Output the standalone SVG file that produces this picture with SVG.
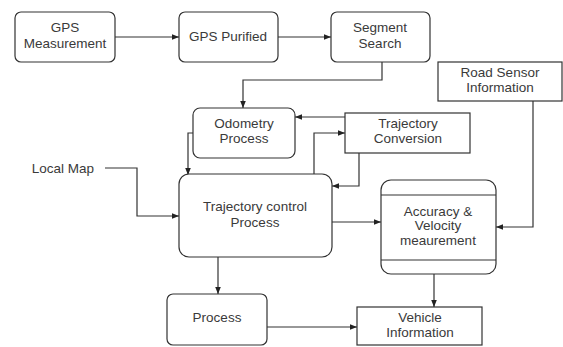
<svg xmlns="http://www.w3.org/2000/svg" width="563" height="347" viewBox="0 0 563 347">
<defs>
<marker id="arr" viewBox="0 0 10 10" refX="10" refY="5" markerWidth="7" markerHeight="7" markerUnits="userSpaceOnUse" orient="auto">
<path d="M0,1 L10,5 L0,9 z" fill="#222"/>
</marker>
<style>
.box{fill:#fff;stroke:#333;stroke-width:1.2}
.t{font-family:"Liberation Sans",Arial,sans-serif;font-size:13.5px;fill:#3a3a3a;text-anchor:middle}
.c{fill:none;stroke:#333;stroke-width:1.2;marker-end:url(#arr)}
.l{fill:none;stroke:#333;stroke-width:1.2}
</style>
</defs>
<rect width="563" height="347" fill="#fff"/>
<g id="connectors">
<path class="c" d="M115,37 H179"/>
<path class="c" d="M278,37 H331"/>
<path class="c" d="M382,62 V80 H243 V108"/>
<path class="c" d="M345,117 H295"/>
<path class="c" d="M314,174 V133 H345"/>
<path class="c" d="M359,153 V186 H332"/>
<path class="c" d="M193,133 H188 V175"/>
<path class="c" d="M105,168 H137 V216 H179"/>
<path class="c" d="M332,222 H381"/>
<path class="c" d="M218,257 V294"/>
<path class="c" d="M267,327 H357"/>
<path class="c" d="M434,274 V307"/>
<path class="c" d="M533,101 V227 H496"/>
</g>
<g id="gps-measurement"><rect class="box" x="15" y="12" width="100" height="50" rx="6"/><text class="t" x="65" y="32">GPS</text><text class="t" x="65" y="48">Measurement</text></g>
<g id="gps-purified"><rect class="box" x="179" y="12" width="99" height="50" rx="6"/><text class="t" x="228" y="41">GPS Purified</text></g>
<g id="segment-search"><rect class="box" x="331" y="12" width="99" height="50" rx="6"/><text class="t" x="380" y="32">Segment</text><text class="t" x="380" y="48">Search</text></g>
<g id="road-sensor"><rect class="box" x="438" y="62" width="124" height="39"/><text class="t" x="500" y="77">Road Sensor</text><text class="t" x="500" y="92">Information</text></g>
<g id="odometry"><rect class="box" x="193" y="108" width="102" height="50" rx="7"/><text class="t" x="244" y="128">Odometry</text><text class="t" x="244" y="143">Process</text></g>
<g id="trajectory-conversion"><rect class="box" x="345" y="113" width="125" height="40"/><text class="t" x="408" y="128">Trajectory</text><text class="t" x="408" y="143">Conversion</text></g>
<g id="local-map"><text class="t" x="63" y="173">Local Map</text></g>
<g id="trajectory-control"><rect class="box" x="179" y="174" width="153" height="83" rx="10"/><text class="t" x="255" y="211">Trajectory control</text><text class="t" x="255" y="227">Process</text></g>
<g id="accuracy"><rect class="box" x="381" y="180" width="115" height="94" rx="10"/><path class="l" d="M381,195 H496 M381,260 H496"/><text class="t" x="438" y="216">Accuracy &amp;</text><text class="t" x="438" y="230">Velocity</text><text class="t" x="438" y="245">meaurement</text></g>
<g id="process"><rect class="box" x="167" y="294" width="100" height="51" rx="6"/><text class="t" x="217" y="322">Process</text></g>
<g id="vehicle-information"><rect class="box" x="357" y="307" width="125" height="38"/><text class="t" x="420" y="322">Vehicle</text><text class="t" x="420" y="337">Information</text></g>
</svg>
